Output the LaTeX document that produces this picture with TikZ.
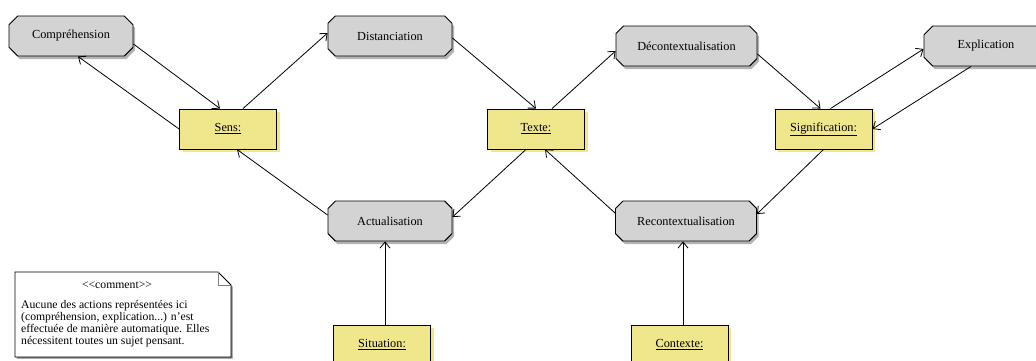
\documentclass[tikz,border=0pt]{standalone}
\usepackage{fontspec}
\setmainfont{Liberation Serif}
\usetikzlibrary{arrows.meta,shapes.misc,shadows}
\definecolor{actGray}{HTML}{D3D3D3}
\definecolor{actShade}{HTML}{B4B4B4}
\definecolor{objYel}{HTML}{F0E68C}

\begin{document}
\begin{tikzpicture}[x=1pt,y=-1pt,every node/.style={font=\fontsize{12.3}{14}\selectfont},>={Straight Barb[length=6pt,width=10pt]},
  action/.style={chamfered rectangle,chamfered rectangle xsep=10pt,draw,line width=0.9pt,fill=actGray,minimum width=124pt,minimum height=40pt,inner sep=0pt,
    drop shadow={shadow xshift=2pt,shadow yshift=-3pt,fill=actShade,opacity=1}},
  object/.style={rectangle,draw,line width=0.9pt,fill=objYel,minimum width=97pt,minimum height=40pt,inner sep=0pt,
    drop shadow={shadow xshift=3pt,shadow yshift=-3pt,fill=objYel,opacity=1}},
  flow/.style={->,line width=0.8pt},
  notetext/.style={font=\fontsize{11.7}{11.9}\selectfont,inner sep=0pt}]
  \useasboundingbox (0,0) rectangle (1036,360);
  \clip (0,0) rectangle (1036,360);

  \node[action] (comp) at (71,36) {Compréhension};
  \node[action] (dist) at (390,36) {Distanciation};
  \node[action,minimum width=141pt] (decon) at (686.5,46) {Décontextualisation};
  \node[action] (expl) at (986,46) {Explication};
  \node[object] (sens) at (228,129) {\underline{Sens:}};
  \node[object] (texte) at (536,129) {\underline{Texte:}};
  \node[object] (signif) at (823.5,129) {\underline{Signification:}};
  \node[action] (actu) at (390,221) {Actualisation};
  \node[action,minimum width=141pt] (recon) at (686,221) {Recontextualisation};
  \node[object] (situ) at (382,345) {\underline{Situation:}};
  \node[object] (cont) at (679.5,345) {\underline{Contexte:}};

  \draw[flow] ([yshift=-8pt]comp.east) -- ([xshift=-8pt]sens.north);
  \draw[flow] (sens.west) -- ([xshift=7pt]comp.south);
  \draw[flow] ([xshift=15pt]sens.north) -- ([yshift=3pt]dist.west);
  \draw[flow] ([yshift=-2pt]dist.east) -- (texte.north);
  \draw[flow] ([xshift=16pt]texte.north) -- ([yshift=-5pt]decon.west);
  \draw[flow] ([yshift=-8pt]decon.east) -- ([xshift=-3pt]signif.north);
  \draw[flow] ([xshift=7pt]signif.north) -- ([yshift=-3pt]expl.west);
  \draw[flow] ([xshift=-15pt]expl.south) -- (signif.east);
  \draw[flow] (signif.south) -- ([yshift=7pt]recon.east);
  \draw[flow] ([yshift=8pt]recon.west) -- ([xshift=9pt]texte.south);
  \draw[flow] ([xshift=-10pt]texte.south) -- ([yshift=4pt]actu.east);
  \draw[flow] ([yshift=6pt]actu.west) -- ([xshift=9pt]sens.south);
  \draw[flow] ([xshift=3pt]situ.north) -- ([xshift=-5pt]actu.south);
  \draw[flow] ([xshift=3.5pt]cont.north) -- ([xshift=-3pt]recon.south);

  \coordinate (noteNW) at (15,272);
  \coordinate (foldA) at (218,272);
  \coordinate (foldB) at (231,285);
  \coordinate (noteSE) at (231,357);
  \draw[line width=0.9pt,fill=white,drop shadow={shadow xshift=1.5pt,shadow yshift=-1.5pt,fill=gray,opacity=1}]
    (noteNW) -- (foldA) -- (foldB) -- (noteSE) -- (noteNW |- noteSE) -- cycle;
  \draw[gray,line width=0.8pt] (foldA) |- (foldB);
  \node[notetext] (noteHead) at (117,285) {\textless\kern0pt\textless comment\textgreater\kern0pt\textgreater};
  \node[notetext,anchor=north west,align=left] (noteBody) at (21,300)
    {Aucune des actions représentées ici\\(compréhension, explication...) n'est\\effectuée de manière automatique. Elles\\nécessitent toutes un sujet pensant.};
\end{tikzpicture}
\end{document}
